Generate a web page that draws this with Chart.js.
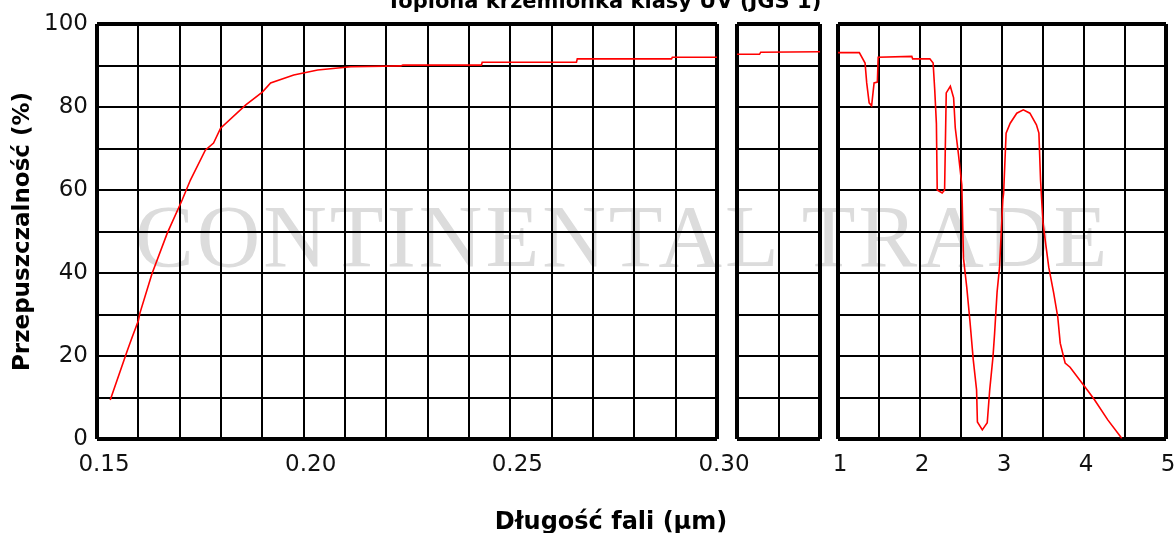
<!DOCTYPE html>
<html lang="pl">
<head>
<meta charset="utf-8">
<title>Topiona krzemionka klasy UV (JGS 1)</title>
<script src="https://cdn.jsdelivr.net/npm/chart.js@4.4.1/dist/chart.umd.min.js"></script>
<style>
  html, body { margin: 0; padding: 0; background: #fff; }
  #wrap { position: relative; width: 1175px; height: 533px; overflow: hidden; }
  #wrap canvas { position: absolute; left: 0; top: 0; }
  .txt { position: absolute; white-space: pre; line-height: 1; color: #000; }
  #title { top: -11px; left: 604px; transform: translateX(-50%); font: bold 21px "DejaVu Sans"; }
  #xtitle { top: 507px; left: 611px; transform: translateX(-50%); font: bold 24px "DejaVu Sans"; }
  #mark { top: 186px; left: 135px; font: 88px "Liberation Serif"; letter-spacing: 3px; color: #dcdcdc; }
</style>
</head>
<body>
<div id="wrap">
  <div class="txt" id="mark">CONTINENTAL TRADE</div>
  <canvas id="uvChart" width="1175" height="533"></canvas>
  <canvas id="midChart" width="1175" height="533"></canvas>
  <canvas id="irChart" width="1175" height="533"></canvas>
  <div class="txt" id="title">Topiona krzemionka klasy UV (JGS 1)</div>
  <div class="txt" id="xtitle">Długość fali (µm)</div>
</div>
<script>
// wavelength in um, transmission in %
const uvWave = [0.1532, 0.1573, 0.1585, 0.1600, 0.1604, 0.1633, 0.1670, 0.1706, 0.1726, 0.1762,
  0.1782, 0.1799, 0.1860, 0.1900, 0.1920, 0.1976, 0.2034, 0.2114, 0.2235, 0.2240, 0.2430, 0.2432,
  0.2660, 0.2662, 0.2890, 0.2892, 0.3000];
const uvTrans = [9.4, 21.2, 24.5, 28.5, 30.4, 39.8, 49.6, 57.6, 62.4, 69.6,
  71.3, 74.9, 80.5, 83.6, 85.8, 87.7, 88.9, 89.7, 89.9, 90.1, 90.1, 90.8,
  90.8, 91.6, 91.6, 92.0, 92.0];

const midWave = [0.30, 0.49, 0.50, 1.00];
const midTrans = [92.7, 92.7, 93.2, 93.3];

const irWave = [1.00, 1.26, 1.33, 1.35, 1.38, 1.41, 1.44, 1.48, 1.49, 1.90, 1.91, 2.12, 2.16, 2.18,
  2.20, 2.21, 2.27, 2.30, 2.32, 2.37, 2.41, 2.43, 2.47, 2.51, 2.53, 2.57, 2.61, 2.65, 2.69, 2.70,
  2.76, 2.82, 2.85, 2.89, 2.91, 2.94, 2.97, 3.01, 3.02, 3.05, 3.10, 3.18, 3.26, 3.34, 3.42, 3.45,
  3.47, 3.50, 3.57, 3.63, 3.68, 3.71, 3.77, 3.83, 4.04, 4.13, 4.29, 4.46];
const irTrans = [93.1, 93.1, 90.6, 85.8, 81.0, 80.3, 85.8, 86.0, 92.0, 92.2, 91.6, 91.6, 90.6, 84.0,
  76.0, 60.0, 59.3, 60.0, 83.4, 85.0, 82.2, 75.0, 68.4, 61.2, 43.6, 36.6, 28.2, 19.0, 11.8, 4.1,
  2.2, 3.9, 11.8, 19.8, 25.5, 35.4, 41.4, 57.6, 59.3, 73.7, 76.1, 78.5, 79.3, 78.5, 75.7, 73.7,
  62.4, 52.0, 41.4, 35.2, 29.4, 23.1, 18.3, 17.3, 11.8, 9.4, 4.6, 0.2];

const uvTickLabels = ['0.15', '0.20', '0.25', '0.30'];
const irTickLabels = ['1', '2', '3', '4', '5'];
const yTickLabels = ['0', '20', '40', '60', '80', '100'];

const tickFont = { family: 'DejaVu Sans', size: 23 };

function gridWidth(ctx) {
  if (ctx.index === undefined) return 2;
  const last = ctx.scale.ticks.length - 1;
  return (ctx.index === 0 || ctx.index === last) ? 4 : 2;
}

function toPoints(xs, ys) {
  return xs.map((x, i) => ({ x: x, y: ys[i] }));
}

function makePanel(id, xs, ys, opts) {
  const yScale = {
    min: 0, max: 100,
    ticks: {
      stepSize: 10,
      display: opts.showY,
      padding: 9,
      color: '#111',
      font: tickFont,
      callback: v => yTickLabels.includes(String(v)) ? String(v) : ''
    },
    grid: { color: '#000', lineWidth: gridWidth, drawTicks: false },
    border: { display: false },
    afterFit: s => { s.width = opts.showY ? 97 : 0; }
  };
  if (opts.showY) {
    yScale.title = {
      display: true,
      text: 'Przepuszczalność (%)',
      color: '#000',
      font: { family: 'DejaVu Sans', size: 23, weight: 'bold' },
      padding: { top: 9, bottom: 0 }
    };
  }

  const xScale = {
    type: 'linear',
    min: opts.min, max: opts.max,
    ticks: {
      stepSize: opts.step,
      display: opts.labels.length > 0,
      autoSkip: false,
      maxRotation: 0,
      padding: 12,
      labelOffset: opts.labelOffset,
      color: '#111',
      font: tickFont,
      callback: v => {
        const s = opts.fmt(v);
        return opts.labels.includes(s) ? s : '';
      }
    },
    grid: { color: '#000', lineWidth: gridWidth, drawTicks: false },
    border: { display: false },
    afterFit: s => {
      // keep chart area fixed, labels may run into the padding
      s.height = 60;
      s.paddingLeft = 0;
      s.paddingRight = 0;
    }
  };
  if (opts.fixedTicks) {
    xScale.afterBuildTicks = s => { s.ticks = opts.fixedTicks.map(v => ({ value: v })); };
  }

  return new Chart(document.getElementById(id), {
    type: 'line',
    data: {
      datasets: [{
        data: toPoints(xs, ys),
        borderColor: '#ff0000',
        borderWidth: 1.6,
        pointRadius: 0,
        tension: 0,
        fill: false
      }]
    },
    options: {
      responsive: false,
      animation: false,
      devicePixelRatio: 1,
      layout: { padding: opts.padding },
      plugins: { legend: { display: false }, tooltip: { enabled: false } },
      scales: { x: xScale, y: yScale }
    }
  });
}

makePanel('uvChart', uvWave, uvTrans, {
  min: 0.15, max: 0.30, step: 0.01, showY: true,
  labels: uvTickLabels, labelOffset: 7, fmt: v => v.toFixed(2),
  padding: { left: 0, top: 24, right: 458, bottom: 34 }
});

makePanel('midChart', midWave, midTrans, {
  min: 0.30, max: 1.00, step: 0.35, showY: false,
  labels: [], labelOffset: 0, fmt: v => String(v),
  fixedTicks: [0.30, 0.65, 1.00],
  padding: { left: 737, top: 24, right: 355, bottom: 34 }
});

makePanel('irChart', irWave, irTrans, {
  min: 1, max: 5, step: 0.5, showY: false,
  labels: irTickLabels, labelOffset: 2, fmt: v => String(v),
  padding: { left: 838, top: 24, right: 9, bottom: 34 }
});
</script>
</body>
</html>
